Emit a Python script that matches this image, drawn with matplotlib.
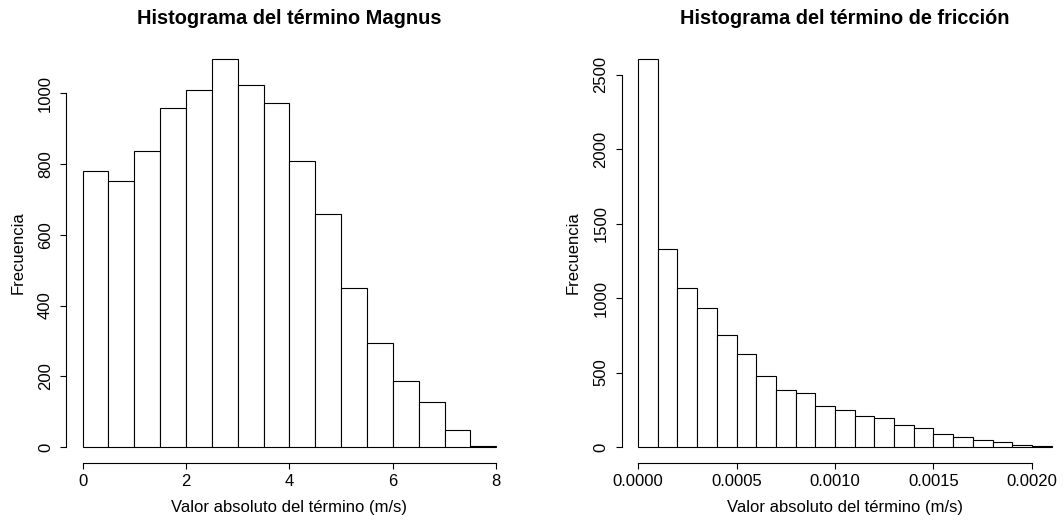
"""
Histogramas de los términos Magnus y de fricción (estilo R base).
"""

import matplotlib

matplotlib.use("Agg")

import matplotlib.pyplot as plt
import numpy as np

plt.rcParams["font.family"] = ["Liberation Sans", "DejaVu Sans"]

# Datos
magnus_breaks = np.linspace(0, 8, 17)
magnus_counts = [782, 751, 836, 958, 1010, 1098, 1025, 973,
                 809, 658, 450, 293, 187, 127, 48, 2]

friccion_breaks = np.linspace(0, 0.0021, 22)
friccion_counts = [2607, 1333, 1066, 932, 750, 627, 479, 381, 361, 278, 249,
                   206, 197, 146, 130, 87, 69, 45, 31, 16, 4]

magnus_xticks = [0, 2, 4, 6, 8]
magnus_yticks = [0, 200, 400, 600, 800, 1000]
friccion_xticks = [0.0, 0.0005, 0.0010, 0.0015, 0.0020]
friccion_yticks = [0, 500, 1000, 1500, 2000, 2500]

W, H = 1064, 522
fig = plt.figure(figsize=(W / 100, H / 100), dpi=100)


def r_lim(lo, hi):
    # Rango extendido 4% como en R
    d = (hi - lo) * 0.04
    return lo - d, hi + d


def histograma(rect, breaks, counts, xticks, yticks, title, xfmt):
    ax = fig.add_axes(rect)
    ax.bar(breaks[:-1], counts, width=np.diff(breaks), align="edge",
           color="white", edgecolor="black", linewidth=0.8)
    ax.set_xlim(*r_lim(breaks[0], breaks[-1]))
    ax.set_ylim(*r_lim(0, max(counts)))

    for s in ["top", "right"]:
        ax.spines[s].set_visible(False)
    ax.spines["left"].set_bounds(yticks[0], yticks[-1])
    ax.spines["bottom"].set_bounds(xticks[0], xticks[-1])
    for s in ["left", "bottom"]:
        ax.spines[s].set_linewidth(0.8)

    ax.set_xticks(xticks)
    ax.set_xticklabels([xfmt(v) for v in xticks])
    ax.set_yticks(yticks)
    ax.set_yticklabels([str(v) for v in yticks], rotation=90, va="center")
    ax.tick_params(length=4.5, width=0.8, labelsize=12, pad=4)
    ax.tick_params(axis="y", pad=5)

    ax.set_title(title, fontsize=14.4, weight="bold", pad=14)
    ax.set_xlabel("Valor absoluto del término (m/s)", fontsize=12, labelpad=8)
    ax.set_ylabel("Frecuencia", fontsize=12, labelpad=9)
    return ax


bottom = (H - 462.5) / H
height = (462.5 - 43.3) / H

histograma([66.1 / W, bottom, 446.7 / W, height], magnus_breaks,
           magnus_counts, magnus_xticks, magnus_yticks,
           "Histograma del término Magnus", lambda v: f"{v:g}")
histograma([621.5 / W, bottom, 446.7 / W, height], friccion_breaks,
           friccion_counts, friccion_xticks, friccion_yticks,
           "Histograma del término de fricción", lambda v: f"{v:.4f}")

fig.savefig("out.png", dpi=100)
plt.close(fig)
